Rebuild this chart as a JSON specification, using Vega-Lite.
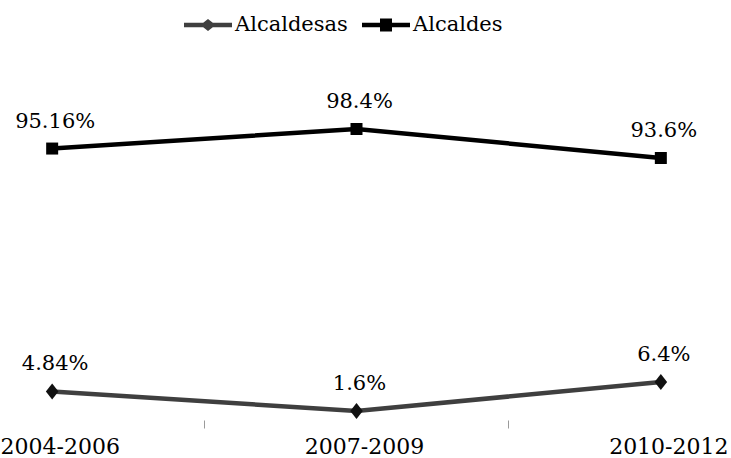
{
  "$schema": "https://vega.github.io/schema/vega-lite/v6.json",
  "width": 731,
  "height": 360,
  "autosize": "none",
  "padding": {"top": 60, "left": 0, "right": 0, "bottom": 38},
  "background": "white",
  "config": {
    "view": {"stroke": null},
    "font": "DejaVu Serif",
    "text": {"font": "DejaVu Serif"}
  },
  "data": {
    "values": [
      {"period": "2004-2006", "series": "Alcaldesas", "value": 4.84, "label": "4.84%"},
      {"period": "2007-2009", "series": "Alcaldesas", "value": 1.6, "label": "1.6%"},
      {"period": "2010-2012", "series": "Alcaldesas", "value": 6.4, "label": "6.4%"},
      {"period": "2004-2006", "series": "Alcaldes", "value": 95.16, "label": "95.16%"},
      {"period": "2007-2009", "series": "Alcaldes", "value": 98.4, "label": "98.4%"},
      {"period": "2010-2012", "series": "Alcaldes", "value": 93.6, "label": "93.6%"}
    ]
  },
  "encoding": {
    "x": {
      "field": "period",
      "type": "ordinal",
      "sort": ["2004-2006", "2007-2009", "2010-2012"],
      "scale": {"type": "band", "range": [-100, 813], "paddingInner": 0, "paddingOuter": 0},
      "axis": {
        "title": null,
        "domain": false,
        "grid": false,
        "ticks": true,
        "bandPosition": 0,
        "tickColor": "#9a9a9a",
        "tickSize": 8,
        "tickWidth": 1,
        "labelAngle": 0,
        "labelFont": "DejaVu Serif",
        "labelFontSize": 22,
        "labelColor": "#000000",
        "labelPadding": 8,
        "labelOffset": 8
      }
    }
  },
  "layer": [
    {
      "transform": [{"filter": "datum.series === 'Alcaldesas'"}],
      "encoding": {
        "y": {
          "field": "value",
          "type": "quantitative",
          "scale": {"domain": [0.11, 59.71], "nice": false, "zero": false},
          "axis": null
        }
      },
      "layer": [
        {"mark": {"type": "line", "color": "#3f3f3f", "strokeWidth": 4.5}, "encoding": {}},
        {"mark": {"type": "point", "shape": "M0,-1.15L0.9,0L0,1.15L-0.9,0Z", "filled": true, "opacity": 1, "color": "#111111", "size": 196}, "encoding": {}},
        {"mark": {"type": "text", "font": "DejaVu Serif", "fontSize": 21, "dy": -21, "dx": 3, "baseline": "alphabetic", "color": "#000000"}, "encoding": {"text": {"field": "label"}}}
      ]
    },
    {
      "transform": [{"filter": "datum.series === 'Alcaldes'"}],
      "encoding": {
        "y": {
          "field": "value",
          "type": "quantitative",
          "scale": {"domain": [50.22, 109.82], "nice": false, "zero": false},
          "axis": null
        }
      },
      "layer": [
        {"mark": {"type": "line", "color": "#000000", "strokeWidth": 4.5}, "encoding": {}},
        {"mark": {"type": "point", "shape": "square", "filled": true, "opacity": 1, "color": "#000000", "size": 144}, "encoding": {}},
        {"mark": {"type": "text", "font": "DejaVu Serif", "fontSize": 21, "dy": -21, "dx": 3, "baseline": "alphabetic", "color": "#000000"}, "encoding": {"text": {"field": "label"}}}
      ]
    },
    {
      "mark": {"type": "point", "filled": true, "opacity": 0},
      "encoding": {
        "color": {
          "field": "series",
          "type": "nominal",
          "scale": {"domain": ["Alcaldesas", "Alcaldes"], "range": ["#3f3f3f", "#000000"]}
        },
        "shape": {
          "field": "series",
          "type": "nominal",
          "scale": {
            "domain": ["Alcaldesas", "Alcaldes"],
            "range": [
              "M-1,-0.09H-0.2L0,-0.25L0.2,-0.09H1V0.09H0.2L0,0.25L-0.2,0.09H-1Z",
              "M-1,-0.09H-0.25V-0.27H0.25V-0.09H1V0.09H0.25V0.27H-0.25V0.09H-1Z"
            ]
          },
          "legend": {
            "title": null,
            "orient": "none",
            "direction": "horizontal",
            "legendX": 184,
            "legendY": -59,
            "symbolSize": 2304,
            "symbolOpacity": 1,
            "symbolStrokeWidth": 0,
            "labelFont": "DejaVu Serif",
            "labelFontSize": 21,
            "labelColor": "#000000",
            "labelOffset": 3,
            "columnPadding": 14,
            "labelLimit": 300
          }
        }
      }
    }
  ],
  "resolve": {"scale": {"y": "independent"}}
}
